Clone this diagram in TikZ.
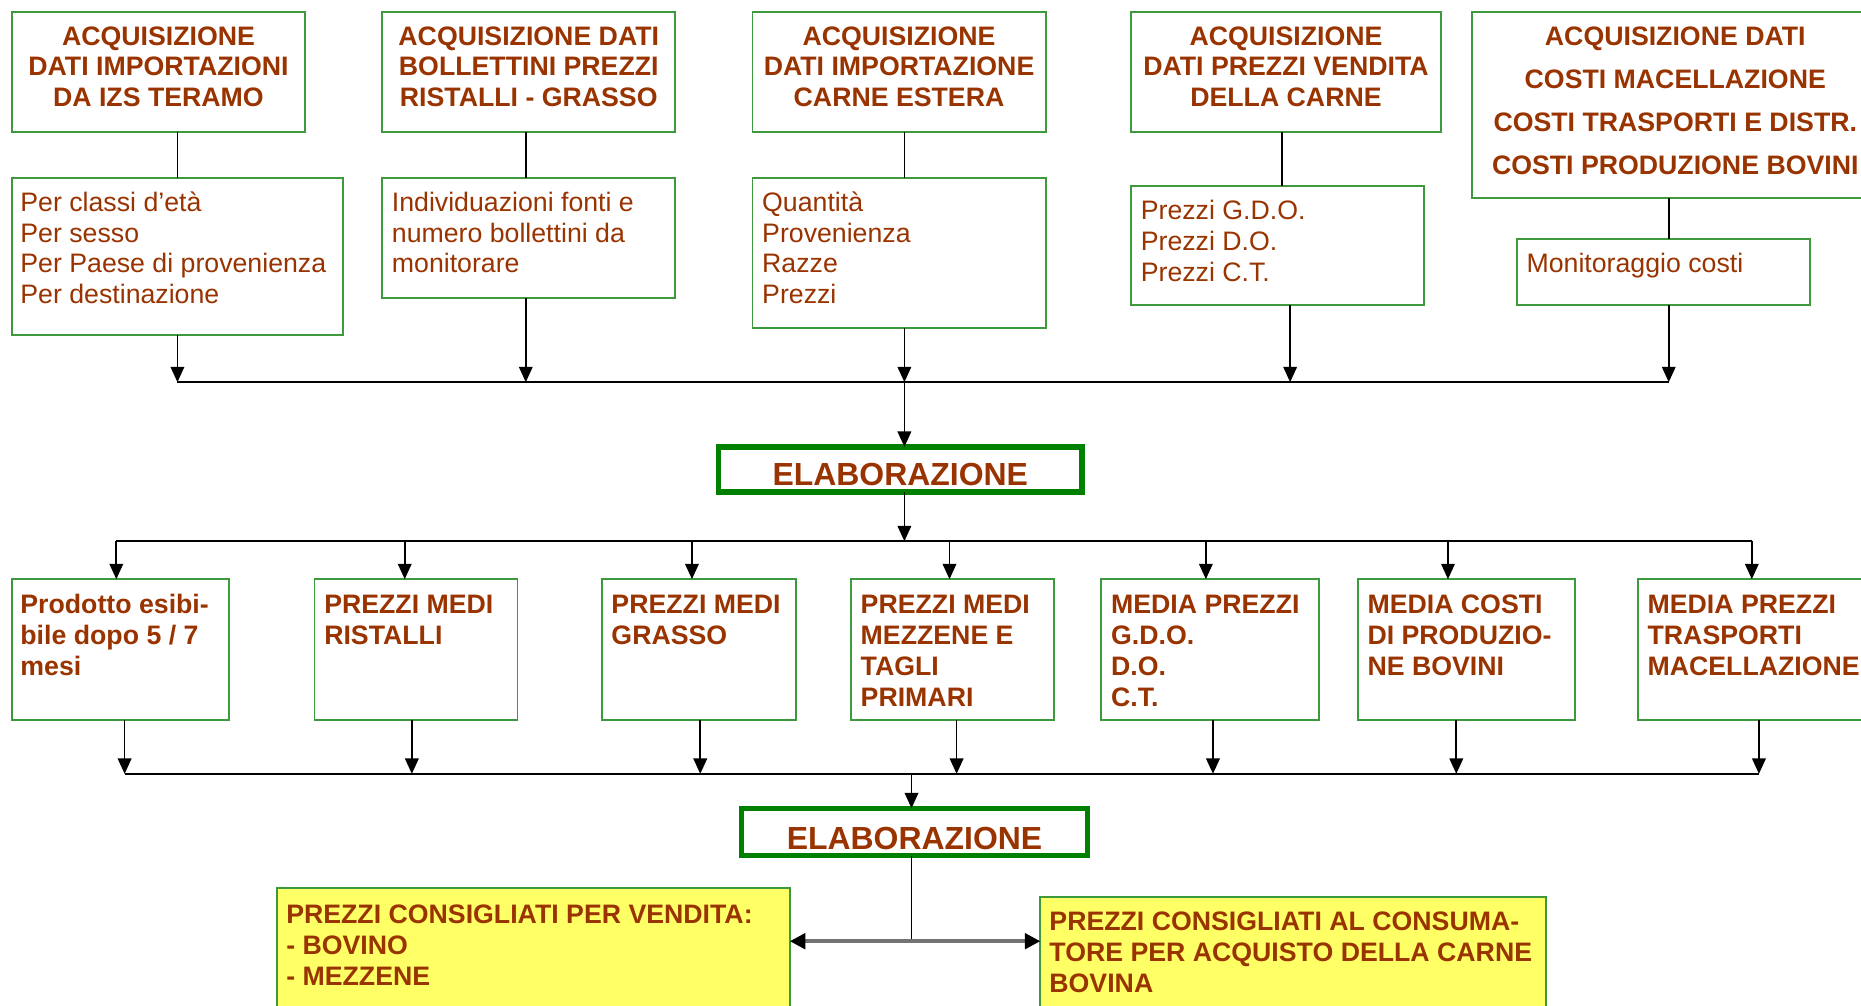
\documentclass[tikz,border=0pt]{standalone}
\usepackage{fontspec}
\setmainfont{Liberation Sans}
\usetikzlibrary{arrows.meta}
\definecolor{txt}{HTML}{993300}
\definecolor{gr}{HTML}{3C9A3C}
\definecolor{dgr}{HTML}{008000}
\definecolor{yel}{HTML}{FFFF66}
\newcommand\myfs{\fontsize{22.5}{26}\selectfont}
\newcommand\cbox[1]{\parbox[t]{340pt}{\centering #1}}
\newcommand\lbox[1]{\parbox[t]{460pt}{\raggedright #1}}
\begin{document}
\begin{tikzpicture}[x=1pt,y=-1pt,
  box/.style={draw=gr,line width=1.6pt,fill=white,anchor=north west,inner sep=0pt,outer sep=0pt},
  ybox/.style={box,fill=yel},
  tc/.style={anchor=base,inner sep=0pt,text=txt,font=\bfseries\myfs},
  tl/.style={anchor=base west,inner sep=0pt,text=txt,font=\myfs},
  tlb/.style={tl,font=\bfseries\myfs},
  elab/.style={draw=dgr,line width=4.5pt,fill=white,inner sep=0pt,outer sep=0pt,text=txt,font=\bfseries\fontsize{26.9}{30}\selectfont,text depth=0pt},
  conn/.style={line width=1.4pt,draw=black},
  arr/.style={conn,-{Triangle[length=13pt,width=11.5pt]}},
  dbl/.style={line width=3pt,draw=black!55,{Triangle[length=13pt,width=13pt,color=black]}-{Triangle[length=13pt,width=13pt,color=black]}}]
\useasboundingbox (0,0) rectangle (1568,847);
\clip (0,0) rectangle (1568,847);
\fill[white] (0,0) rectangle (1568,847);

% top row
\node[box,minimum width=247pt,minimum height=101pt] (b1) at (10,10) {};
\node[box,minimum width=247pt,minimum height=101pt] (b2) at (322,10) {};
\node[box,minimum width=247pt,minimum height=101pt] (b3) at (634,10) {};
\node[box,minimum width=261pt,minimum height=101pt] (b4) at (953,10) {};
\node[box,minimum width=342pt,minimum height=157pt] (b5) at (1240,10) {};
% detail row
\node[box,minimum width=279pt,minimum height=132pt] (d1) at (10,150) {};
\node[box,minimum width=247pt,minimum height=101pt] (d2) at (322,150) {};
\node[box,minimum width=247pt,minimum height=126pt] (d3) at (634,150) {};
\node[box,minimum width=247pt,minimum height=100pt] (d4) at (953,157) {};
\node[box,minimum width=247pt,minimum height=56pt] (d5) at (1278,201) {};
% elaborazione 1
\node[elab,minimum width=306pt,minimum height=38pt,text height=26.4pt] (e1) at (758.5,395.5) {ELABORAZIONE};
% middle row
\node[box,minimum width=183pt,minimum height=119pt] (m1) at (10,488) {};
\node[box,minimum width=171pt,minimum height=119pt] (m2) at (265,488) {};
\node[box,minimum width=164pt,minimum height=119pt] (m3) at (507,488) {};
\node[box,minimum width=171pt,minimum height=119pt] (m4) at (717,488) {};
\node[box,minimum width=183pt,minimum height=119pt] (m5) at (928,488) {};
\node[box,minimum width=183pt,minimum height=119pt] (m6) at (1144,488) {};
\node[box,minimum width=200pt,minimum height=119pt] (m7) at (1380,488) {};
% elaborazione 2
\node[elab,minimum width=292pt,minimum height=40pt,text height=30pt] (e2) at (770.5,701) {ELABORAZIONE};
% yellow boxes
\node[ybox,minimum width=432pt,minimum height=140pt] (y1) at (233.5,748.5) {};
\node[ybox,minimum width=426pt,minimum height=140pt] (y2) at (876.5,755.5) {};

% coordinates of the buses
\coordinate (bus1) at (762,322);
\coordinate (bus2) at (762,456);
\coordinate (bus3) at (768,652);
\coordinate (jn) at (768,793);

% top connectors
\draw[conn] (d1.north |- b1.south) -- (d1.north);
\draw[conn] ([xshift=-2.5pt]b2.south) -- ([xshift=-2.5pt]b2.south |- d2.north);
\draw[conn] ([xshift=4.5pt]b3.south) -- ([xshift=4.5pt]b3.south |- d3.north);
\draw[conn] ([xshift=-3.5pt]b4.south) -- ([xshift=-3.5pt]b4.south |- d4.north);
\draw[conn] ([xshift=-5pt]b5.south) -- ([xshift=-5pt]b5.south |- d5.north);

\draw[arr] (d1.south) -- (d1.south |- bus1);
\draw[arr] ([xshift=-2.5pt]d2.south) -- ([xshift=-2.5pt]d2.south |- bus1);
\draw[arr] ([xshift=4.5pt]d3.south) -- ([xshift=4.5pt]d3.south |- bus1);
\draw[arr] ([xshift=10.5pt]d4.south) -- ([xshift=10.5pt]d4.south |- bus1);
\draw[arr] ([xshift=4.5pt]d5.south) -- ([xshift=4.5pt]d5.south |- bus1);
\draw[conn] (d1.south |- bus1) -- ([xshift=4.5pt]d5.south |- bus1);
\draw[arr] (bus1) -- (bus1 |- e1.north);
\draw[arr] (bus1 |- e1.south) -- (bus2);

% middle connectors
\draw[conn] ([xshift=-3.5pt]m1.north |- bus2) -- ([xshift=-4pt]m7.north |- bus2);
\draw[conn] ([xshift=3.5pt]m1.south |- bus3) -- ([xshift=2pt]m7.south |- bus3);
\foreach \nn/\sa/\sb in {m1/-3.5/3.5, m2/-9.5/-3.5, m3/-6/1, m4/-2.5/3.5, m5/-3.5/2.5, m6/-15.5/-8.5, m7/-4/2}{
  \draw[arr] ([xshift=\sa pt]\nn.north |- bus2) -- ([xshift=\sa pt]\nn.north);
  \draw[arr] ([xshift=\sb pt]\nn.south) -- ([xshift=\sb pt]\nn.south |- bus3);
}
\draw[arr] (bus3) -- (bus3 |- e2.north);
\draw[conn] (bus3 |- e2.south) -- (jn);
\draw[dbl] (jn -| y1.east) -- (jn -| y2.west);

% texts
\node[tc] (b1t) at (133.5,38) {\cbox{ACQUISIZIONE\\DATI IMPORTAZIONI\\DA IZS TERAMO}};
\node[tc] (b2t) at (445.5,38) {\cbox{ACQUISIZIONE DATI\\BOLLETTINI PREZZI\\RISTALLI - GRASSO}};
\node[tc] (b3t) at (757.5,38) {\cbox{ACQUISIZIONE\\DATI IMPORTAZIONE\\CARNE ESTERA}};
\node[tc] (b4t) at (1083.5,38) {\cbox{ACQUISIZIONE\\DATI PREZZI VENDITA\\DELLA CARNE}};
\node[tc,font=\bfseries\fontsize{22.5}{36.3}\selectfont] (b5t) at (1411.5,38) {\cbox{ACQUISIZIONE DATI\\COSTI MACELLAZIONE\\COSTI TRASPORTI E DISTR.\\COSTI PRODUZIONE BOVINI}};

\node[tl] (d1t) at (17,178) {\lbox{Per classi d’età\\Per sesso\\Per Paese di provenienza\\Per destinazione}};
\node[tl] (d2t) at (330,178) {\lbox{Individuazioni fonti e\\numero bollettini da\\monitorare}};
\node[tl] (d3t) at (642,178) {\lbox{Quantità\\Provenienza\\Razze\\Prezzi}};
\node[tl] (d4t) at (961,185) {\lbox{Prezzi G.D.O.\\Prezzi D.O.\\Prezzi C.T.}};
\node[tl] (d5t) at (1286,230) {\lbox{Monitoraggio costi}};

\node[tlb] (m1t) at (17,517) {\lbox{Prodotto esibi-\\bile dopo 5 / 7\\mesi}};
\node[tlb] (m2t) at (273,517) {\lbox{PREZZI MEDI\\RISTALLI}};
\node[tlb] (m3t) at (515,517) {\lbox{PREZZI MEDI\\GRASSO}};
\node[tlb] (m4t) at (725,517) {\lbox{PREZZI MEDI\\MEZZENE E\\TAGLI\\PRIMARI}};
\node[tlb] (m5t) at (936,517) {\lbox{MEDIA PREZZI\\G.D.O.\\D.O.\\C.T.}};
\node[tlb] (m6t) at (1152,517) {\lbox{MEDIA COSTI\\DI PRODUZIO-\\NE BOVINI}};
\node[tlb] (m7t) at (1388,517) {\lbox{MEDIA PREZZI\\TRASPORTI\\MACELLAZIONE}};

\node[tlb] (y1t) at (241,778) {\lbox{PREZZI CONSIGLIATI PER VENDITA:\\- BOVINO\\- MEZZENE}};
\node[tlb] (y2t) at (884,784) {\lbox{PREZZI CONSIGLIATI AL CONSUMA-\\TORE PER ACQUISTO DELLA CARNE\\BOVINA}};
\end{tikzpicture}
\end{document}
